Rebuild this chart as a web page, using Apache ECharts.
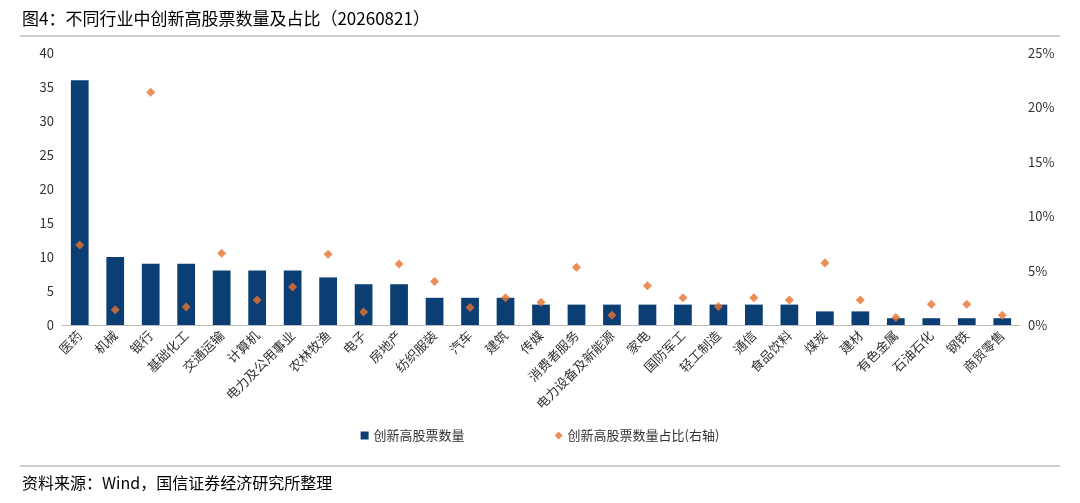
<!DOCTYPE html>
<html><head><meta charset="utf-8">
<script src="https://cdn.jsdelivr.net/npm/echarts@6/dist/echarts.min.js"></script>
<style>body{margin:0;background:#fff}#c{width:1080px;height:503px}</style>
</head><body><div id="c"></div>
<script>
const categories = ["医药","机械","银行","基础化工","交通运输","计算机","电力及公用事业","农林牧渔","电子","房地产","纺织服装","汽车","建筑","传媒","消费者服务","电力设备及新能源","家电","国防军工","轻工制造","通信","食品饮料","煤炭","建材","有色金属","石油石化","钢铁","商贸零售"];
const counts = [36,10,9,9,8,8,8,7,6,6,4,4,4,3,3,3,3,3,3,3,3,2,2,1,1,1,1];
const ratios = [7.35,1.4,21.4,1.65,6.6,2.3,3.5,6.5,1.2,5.6,4.0,1.6,2.5,2.1,5.3,0.9,3.6,2.5,1.7,2.5,2.3,5.7,2.3,0.7,1.9,1.9,0.9];

const chart = echarts.init(document.getElementById("c"));
const font = "'Noto Sans CJK SC', sans-serif";
chart.setOption({
  textStyle: { fontFamily: font },
  graphic: [
    { type: "text", left: 22, top: 10, style: { text: "图4：不同行业中创新高股票数量及占比（20260821）", fontSize: 17, fill: "#000", fontFamily: font } },
    { type: "line", shape: { x1: 20, y1: 36, x2: 1060, y2: 36 }, style: { stroke: "#999", lineWidth: 1 } },
    { type: "line", shape: { x1: 20, y1: 466, x2: 1060, y2: 466 }, style: { stroke: "#999", lineWidth: 1 } },
    { type: "text", left: 22, top: 475, style: { text: "资料来源：Wind，国信证券经济研究所整理", fontSize: 16, fill: "#000", fontFamily: font } }
  ],
  grid: { left: 62, right: 60, top: 53, bottom: 178 },
  legend: {
    bottom: 56, left: "center", itemGap: 90, itemWidth: 8, itemHeight: 8,
    textStyle: { fontSize: 13, color: "#333" },
    data: [{ name: "创新高股票数量", icon: "rect" }, { name: "创新高股票数量占比(右轴)", icon: "diamond" }]
  },
  xAxis: {
    type: "category", data: categories,
    axisTick: { show: false }, axisLine: { lineStyle: { color: "#bbb" } },
    axisLabel: { interval: 0, rotate: 45, fontSize: 13, color: "#333", margin: 8 }
  },
  yAxis: [
    { type: "value", min: 0, max: 40, interval: 5, splitLine: { show: false },
      axisLabel: { fontSize: 13, color: "#333" } },
    { type: "value", min: 0, max: 25, interval: 5, splitLine: { show: false },
      axisLabel: { fontSize: 13, color: "#333", formatter: "{value}%" } }
  ],
  series: [
    { name: "创新高股票数量", type: "bar", data: counts, barWidth: "50%", itemStyle: { color: "#0b3f73" } },
    { name: "创新高股票数量占比(右轴)", type: "scatter", yAxisIndex: 1, data: ratios,
      symbol: "diamond", symbolSize: 9, itemStyle: { color: "#e9722e" } }
  ]
});
</script></body></html>
